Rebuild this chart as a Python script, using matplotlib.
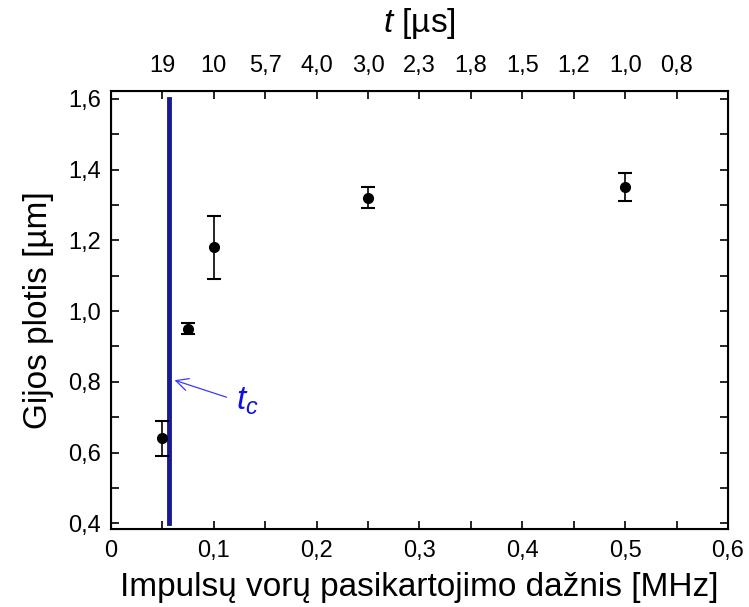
import matplotlib
matplotlib.use("Agg")
import matplotlib.pyplot as plt
from matplotlib.ticker import FuncFormatter, MultipleLocator

# === Data ===
freq = [0.05, 0.075, 0.1, 0.25, 0.5]          # MHz
width = [0.64, 0.95, 1.18, 1.32, 1.35]        # um
width_err = [0.05, 0.015, 0.09, 0.03, 0.04]

t_c = 0.0563
top_ticks = [0.05, 0.10, 0.15, 0.20, 0.25, 0.30, 0.35, 0.40, 0.45, 0.50, 0.55]
top_labels = ["19", "10", "5,7", "4,0", "3,0", "2,3", "1,8", "1,5", "1,2", "1,0", "0,8"]

plt.rcParams['font.family'] = ['Liberation Sans', 'DejaVu Sans']
plt.rcParams['mathtext.fontset'] = 'custom'
plt.rcParams['mathtext.rm'] = 'Liberation Sans'
plt.rcParams['mathtext.it'] = 'Liberation Sans:italic'

fig = plt.figure(figsize=(7.49, 6.07), dpi=100)
ax = fig.add_axes([0.148, 0.128, 0.824, 0.722])

ax.errorbar(freq, width, yerr=width_err, fmt='o', color='black', ms=7,
            elinewidth=1.2, capsize=5, capthick=1.5, zorder=3)
ax.plot([t_c, t_c], [0.4, 1.6], color='#1a1a90', lw=3.5, zorder=2)

ax.annotate("", xy=(t_c + 0.003, 0.807), xytext=(0.115, 0.754),
            arrowprops=dict(arrowstyle='->', color='#3a3aff', lw=0.9,
                            mutation_scale=22))
ax.text(0.122, 0.745, r"$t_c$", color='#1010e0', fontsize=24,
        ha='left', va='center')

ax.set_xlim(0, 0.6)
ax.set_ylim(0.383, 1.622)

comma = FuncFormatter(lambda v, p: f"{v:.1f}".replace(".", ",") if abs(v) > 1e-9 else "0")
ax.xaxis.set_major_locator(MultipleLocator(0.1))
ax.xaxis.set_minor_locator(MultipleLocator(0.05))
ax.yaxis.set_major_locator(MultipleLocator(0.2))
ax.yaxis.set_minor_locator(MultipleLocator(0.1))
ax.xaxis.set_major_formatter(comma)
ax.yaxis.set_major_formatter(comma)
ax.tick_params(which='both', direction='in', right=True, labelsize=17, width=1.2)
ax.tick_params(which='major', length=6)
ax.tick_params(which='minor', length=6)
ax.tick_params(axis='x', pad=8)
ax.tick_params(axis='y', pad=7)

for s in ax.spines.values():
    s.set_linewidth(1.5)

ax.set_xlabel("Impulsų vorų pasikartojimo dažnis [MHz]", fontsize=24, labelpad=7)
ax.set_ylabel("Gijos plotis [µm]", fontsize=24, labelpad=10)

top = ax.twiny()
top.set_xlim(ax.get_xlim())
top.set_xticks(top_ticks)
top.set_xticklabels(top_labels)
top.tick_params(direction='in', length=6, width=1.2, labelsize=17, pad=10)
top.set_xlabel(r"$t$ [µs]", fontsize=24, labelpad=17)

fig.savefig("out.png", dpi=100)
